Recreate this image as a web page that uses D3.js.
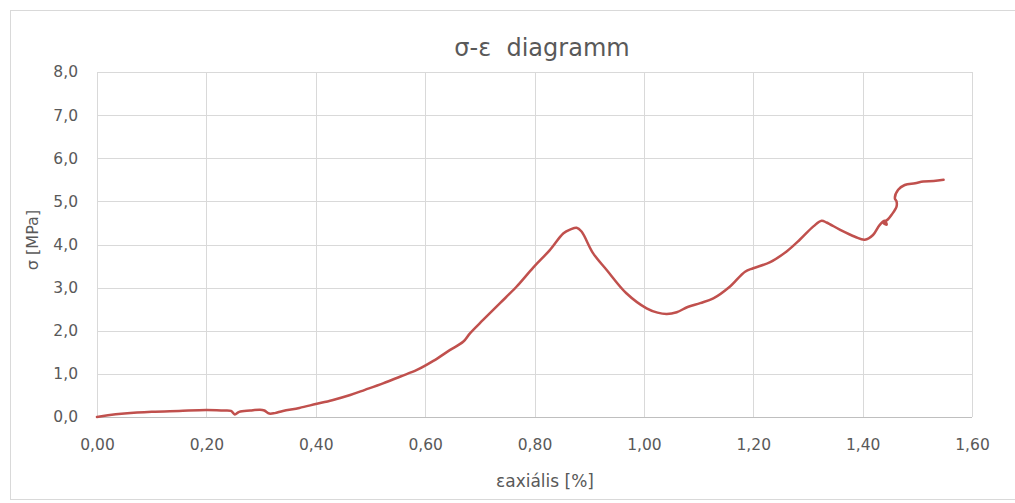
<!DOCTYPE html>
<html>
<head>
<meta charset="utf-8">
<script src="https://cdn.jsdelivr.net/npm/d3@7"></script>
<style>
  body{margin:0;background:#fff}
  svg{display:block}
  text{font-family:"DejaVu Sans","Open Sans",sans-serif;fill:#595959}
</style>
</head>
<body>
<svg id="chart" width="1015" height="503"></svg>
<script>
// strain [%] and stress [MPa]
var strain=[0,0.02,0.05,0.1,0.15,0.2,0.23,0.245,0.252,0.26,0.28,0.298,0.306,0.315,0.325,0.34,0.37,0.40,0.43,0.463,0.49,0.523,0.555,0.585,0.615,0.645,0.67,0.682,0.706,0.737,0.767,0.798,0.828,0.853,0.866,0.877,0.886,0.907,0.932,0.968,1.005,1.025,1.042,1.06,1.08,1.103,1.127,1.157,1.185,1.2,1.231,1.261,1.285,1.31,1.325,1.334,1.359,1.386,1.404,1.419,1.431,1.440,1.444,1.438,1.446,1.453,1.462,1.462,1.459,1.465,1.477,1.496,1.511,1.53,1.548]
var stress=[0,0.04,0.08,0.12,0.14,0.16,0.15,0.14,0.06,0.12,0.15,0.17,0.15,0.08,0.09,0.14,0.21,0.30,0.39,0.51,0.63,0.78,0.94,1.09,1.30,1.55,1.75,1.94,2.25,2.64,3.02,3.47,3.87,4.26,4.35,4.39,4.30,3.80,3.41,2.87,2.52,2.42,2.39,2.43,2.55,2.64,2.75,3.02,3.37,3.45,3.59,3.84,4.11,4.42,4.55,4.51,4.34,4.18,4.11,4.22,4.45,4.55,4.46,4.50,4.58,4.69,4.88,5.0,5.07,5.27,5.38,5.42,5.46,5.47,5.50]
var xTicks=[0,0.2,0.4,0.6,0.8,1.0,1.2,1.4,1.6]
var yTicks=[0,1,2,3,4,5,6,7,8]
var title='σ-ε  diagramm'
var xTitle='εaxiális [%]'
var yTitle='σ [MPa]'

var svg=d3.select('#chart')
var margin={left:97,right:43,top:72,bottom:86}
var W=1015,H=503

// chart frame
svg.append('rect')
    .attr('x',10.5).attr('y',10.5)
    .attr('width',1010).attr('height',489)
    .attr('fill','none').attr('stroke','#d9d9d9')

var x=d3.scaleLinear().domain([0,1.6]).range([margin.left,W-margin.right])
var y=d3.scaleLinear().domain([0,8]).range([H-margin.bottom,margin.top])
var fmt=function(d,n){return d.toFixed(n).replace('.',',')}

// grid
var grid=svg.append('g').attr('id','grid')
grid.selectAll('line.v').data(xTicks).join('line')
    .attr('class','v')
    .attr('x1',d=>Math.round(x(d))+0.5).attr('x2',d=>Math.round(x(d))+0.5)
    .attr('y1',y(8)).attr('y2',y(0))
    .attr('stroke','#d9d9d9').attr('stroke-width',1)
grid.selectAll('line.h').data(yTicks).join('line')
    .attr('class','h')
    .attr('x1',x(0)).attr('x2',x(1.6))
    .attr('y1',d=>Math.round(y(d))+0.5).attr('y2',d=>Math.round(y(d))+0.5)
    .attr('stroke',d=>d==0?'#bfbfbf':'#d9d9d9').attr('stroke-width',1)

// axes (labels only, Excel style)
var xAxis=d3.axisBottom(x).tickValues(xTicks).tickSize(0).tickPadding(22).tickFormat(d=>fmt(d,2))
var gx=svg.append('g').attr('transform',`translate(0,${y(0)})`).call(xAxis)
gx.select('.domain').remove()
gx.selectAll('text').attr('font-size',15.5).style('font-family','"DejaVu Sans",sans-serif').attr('fill','#595959')

var yAxis=d3.axisLeft(y).tickValues(yTicks).tickSize(0).tickPadding(19).tickFormat(d=>fmt(d,1))
var gy=svg.append('g').attr('transform',`translate(${x(0)},0)`).call(yAxis)
gy.select('.domain').remove()
gy.selectAll('text').attr('font-size',15.5).style('font-family','"DejaVu Sans",sans-serif').attr('fill','#595959')

// titles
svg.append('text').attr('x',542).attr('y',56).attr('text-anchor','middle')
    .style('white-space','pre')
    .attr('font-size',24).text(title)
svg.append('text').attr('x',545).attr('y',487).attr('text-anchor','middle')
    .attr('font-size',17).text(xTitle)
svg.append('text').attr('transform','translate(38,240) rotate(-90)').attr('text-anchor','middle')
    .attr('font-size',16).text(yTitle)

// curve
var pts=strain.map((d,i)=>[d,stress[i]])
var line=d3.line().x(d=>x(d[0])).y(d=>y(d[1])).curve(d3.curveCatmullRom.alpha(0.5))
svg.append('path').datum(pts)
    .attr('d',line)
    .attr('fill','none')
    .attr('stroke','#c0504d')
    .attr('stroke-width',2.5)
    .attr('stroke-linejoin','round')
    .attr('stroke-linecap','round')
</script>
</body>
</html>
